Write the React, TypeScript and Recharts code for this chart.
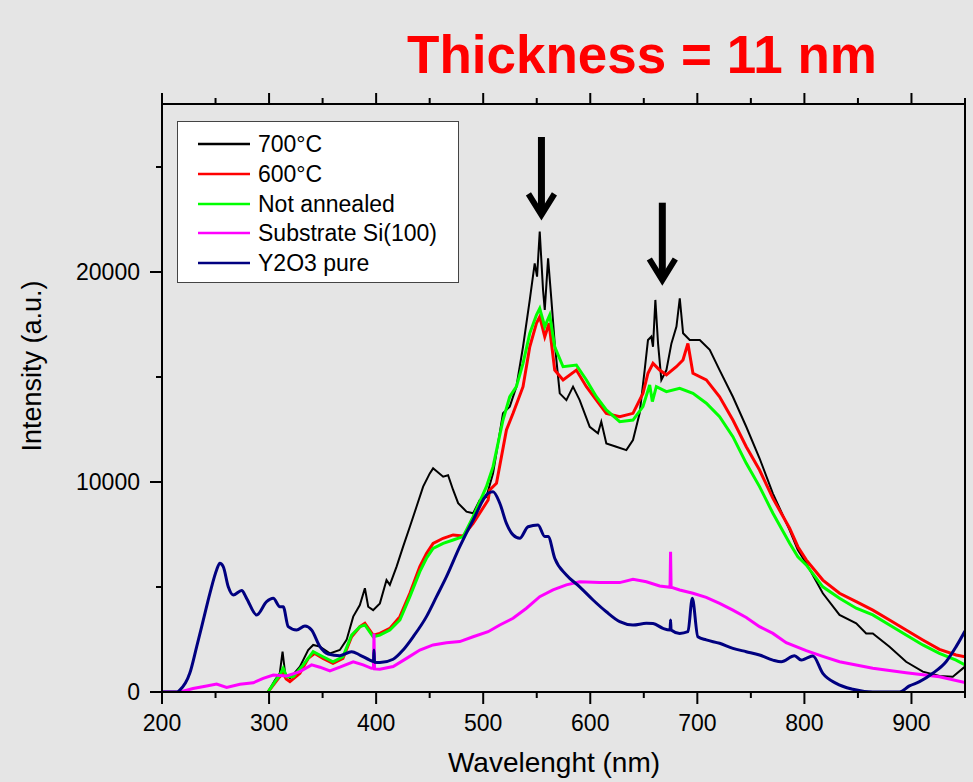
import { LineChart, Line, XAxis, YAxis, ReferenceLine } from 'recharts'

type Pt = [number, number]

// wavelength (nm), intensity (a.u.)
const s700: Pt[] = [
  [299, 0], [305.5, 570], [310, 890], [312.6, 1920], [315, 890], [319.5, 650], [328.8, 1210], [336.5, 2000],
  [341.2, 2240], [347.5, 2160], [356.8, 1840], [366.1, 2000], [372.4, 2480], [378.6, 3590], [384.8, 4140],
  [389.5, 4940], [392.6, 4060], [397.2, 3900], [403.5, 4220], [409.7, 5330], [412.8, 5100], [419.1, 5970],
  [425.2, 6920], [431.5, 7870], [437.7, 8820], [443.9, 9780], [450.1, 10410], [453.2, 10650], [462.6, 10250],
  [467.2, 10320], [471.9, 9620], [476.6, 8990], [484.4, 8590], [490.6, 8510], [496.8, 9140], [503, 9300],
  [509.2, 10410], [518.5, 13270], [524.8, 13590], [531, 14540], [537.2, 16440], [543.5, 18670], [548.1, 20410],
  [550.3, 19780], [552.8, 21920], [555.9, 19140], [557.5, 18190], [560.6, 20650], [563.7, 18670], [566.8, 16600],
  [571.5, 14220], [577.7, 13900], [583.9, 14540], [590.1, 13900], [599.5, 12630], [607.2, 12320], [610.3, 12870],
  [615, 11840], [624.3, 11680], [633.7, 11520], [639.9, 12000], [646.1, 13270], [650.8, 15330], [653.9, 16760],
  [657, 16920], [658.6, 16440], [660.8, 18670], [663.3, 16600], [666.4, 14860], [671.1, 15330], [675.8, 16600],
  [680.5, 17400], [683.6, 18750], [686.7, 17080], [692.9, 16760], [702.3, 16760], [711.6, 16290], [720.8, 15330],
  [733.2, 14060], [745.7, 12630], [758.1, 11130], [770.6, 9450], [786.2, 7710], [793.9, 6760], [801.7, 6130],
  [817.2, 4700], [832.8, 3670], [848.4, 3270], [857.7, 2790], [863.9, 2790], [879.5, 2160], [895, 1440],
  [910.6, 970], [926.1, 760], [938.6, 730], [950, 1210],
]

const s600: Pt[] = [
  [299, 0], [305, 400], [310, 730], [313, 900], [316, 620], [319.5, 490], [328.8, 890], [336.5, 1600],
  [342.7, 1840], [350.4, 1600], [359.7, 1370], [369, 1600], [377.1, 2630], [384.8, 3110], [389.5, 3270],
  [397.2, 2710], [403.5, 2790], [412.8, 3030], [422.2, 3590], [431.5, 4700], [440.8, 5970], [447, 6600],
  [453.2, 7080], [462.6, 7320], [471.9, 7480], [481.2, 7430], [490.6, 8030], [504.6, 9140], [506.1, 9620],
  [512.4, 9940], [521.7, 12480], [527.9, 13270], [537.2, 14540], [543.5, 16440], [549.7, 17560], [552.8, 17870],
  [557.5, 16920], [561.5, 17560], [566.8, 15330], [574.6, 14860], [587, 15330], [596.4, 14540], [605.7, 13900],
  [615, 13270], [627.5, 13110], [639.9, 13270], [649.2, 14220], [653.9, 15180], [658.6, 15650], [664.8, 15330],
  [671.1, 15100], [680.4, 15490], [686.6, 15810], [691.2, 16600], [695.9, 15180], [708.4, 14860], [720.8, 14060],
  [733.2, 12950], [745.7, 11680], [758.1, 10570], [770.6, 9220], [786.2, 7800], [793.9, 6920], [801.7, 6290],
  [817.2, 5330], [832.8, 4700], [848.4, 4300], [863.9, 3900], [879.5, 3430], [895, 2950], [910.6, 2480],
  [926.1, 2030], [941.7, 1760], [950, 1680],
]

const sNotAnnealed: Pt[] = [
  [299, 0], [305.5, 490], [310.1, 810], [313.2, 1130], [316.4, 730], [322.6, 730], [331.9, 1290], [341.2, 1920],
  [350.4, 1680], [359.7, 1440], [369, 1680], [377.1, 2710], [384.8, 3110], [389.5, 3190], [397.2, 2630],
  [403.5, 2710], [412.8, 2950], [422.2, 3430], [431.5, 4540], [440.8, 5730], [447, 6370], [453.2, 6840],
  [462.6, 7080], [471.9, 7240], [481.2, 7400], [490.6, 8350], [503, 9780], [509.2, 10730], [518.5, 12950],
  [524.8, 14060], [531, 14540], [537.2, 15650], [543.5, 17080], [549.7, 17950], [552.8, 18270], [557.5, 17400],
  [562.1, 17950], [566.8, 16440], [574.6, 15490], [587, 15570], [596.4, 14860], [605.7, 14060], [615, 13430],
  [627.5, 12870], [639.9, 12950], [649.2, 13590], [655.5, 14620], [658, 13830], [661.7, 14540], [671.1, 14300],
  [683.5, 14460], [695.9, 14220], [708.4, 13750], [720.8, 13110], [733.2, 12160], [745.7, 10890], [758.1, 9780],
  [770.6, 8510], [786.2, 7080], [793.9, 6440], [801.7, 6050], [817.2, 5010], [832.8, 4460], [848.4, 3990],
  [863.9, 3670], [879.5, 3190], [895, 2710], [910.6, 2240], [926.1, 1840], [941.7, 1520], [950, 1290],
]

const sSubstrate: Pt[] = [
  [200, 0], [217, 0], [229, 170], [241.7, 290], [251, 380], [260.4, 220], [272.8, 370], [285.2, 440],
  [294.5, 650], [303.9, 810], [316.4, 760], [328.8, 970], [339.7, 1290], [347.5, 1180], [356.8, 1000],
  [366.1, 1180], [378.6, 1440], [387.9, 1290], [395.7, 1130], [397.5, 1130], [398, 2790], [398.5, 1100],
  [403.5, 1080], [415.9, 1210], [428.4, 1600], [440.8, 2000], [453.2, 2240], [465.7, 2350], [478.1, 2400],
  [490.6, 2630], [504.6, 2870], [515.5, 3190], [527.9, 3510], [540.4, 3990], [552.8, 4540], [565.2, 4860],
  [577.7, 5100], [590.1, 5250], [608.8, 5210], [627.5, 5210], [639.9, 5370], [652.4, 5250], [664.8, 5050],
  [674.5, 4990], [675, 6680], [675.5, 4990], [683.5, 4860], [695.9, 4700], [708.3, 4510], [720.8, 4220],
  [733.2, 3900], [745.7, 3550], [758.1, 3110], [770.6, 2790], [783, 2350], [801.7, 1970], [817.2, 1700],
  [832.8, 1440], [863.9, 1130], [895, 920], [926.1, 730], [950, 450],
]

const sY2O3: Pt[] = [
  [200, 0], [214, 0], [216.8, 100], [226, 900], [232.4, 2160], [238.6, 3430], [244.8, 4710], [251, 5810],
  [254, 6130], [257.2, 5970], [261.9, 5010], [266.5, 4620], [274.4, 4830], [279, 4460], [288.4, 3670],
  [297.7, 4300], [303.9, 4460], [310.1, 4060], [313.2, 4060], [317.9, 3110], [325.7, 2950], [333.5, 3140],
  [339.7, 2950], [347.5, 2160], [355.2, 1810], [366.1, 1730], [377.1, 1920], [384.8, 1760], [394.1, 1520],
  [397.5, 1450], [398, 2000], [398.5, 1420], [403.5, 1400], [415.9, 1560], [425.2, 2000], [434.6, 2630],
  [447, 3590], [456.4, 4540], [465.7, 5490], [478.1, 6920], [490.6, 8190], [504.6, 9460], [509.2, 9540],
  [515.5, 8990], [521.7, 8030], [527.9, 7480], [534.1, 7320], [541.9, 7870], [551.2, 7950], [557.5, 7400],
  [560.6, 7400], [566.8, 6370], [577.7, 5570], [590.1, 5010], [602.6, 4380], [615, 3820], [627.5, 3350],
  [639.9, 3190], [652.4, 3270], [658.6, 3260], [667.9, 3030], [674.5, 2950], [675, 3430], [675.5, 2950],
  [683.5, 2790], [691.2, 2870], [695.3, 4460], [700.5, 2630], [708.3, 2480], [720.8, 2320], [733.2, 2080],
  [745.7, 1920], [758.1, 1760], [770.6, 1520], [778.4, 1440], [790.8, 1730], [797, 1520], [801.7, 1600],
  [807.9, 1710], [817.2, 890], [829.7, 410], [845.2, 130], [863.9, 0], [888.8, 0], [898.1, 290], [907.5, 490],
  [919.9, 890], [932.3, 1440], [941.7, 2160], [950, 2900],
]

const xTicks = [200, 250, 300, 350, 400, 450, 500, 550, 600, 650, 700, 750, 800, 850, 900, 950]
const yTicks = [0, 5000, 10000, 15000, 20000, 25000]

// arrows: wavelength, top intensity, tip intensity
const arrows = [
  [554.4, 26430, 22480],
  [667.3, 23300, 19380],
]

const series = [
  { name: '700°C', color: '#000000', width: 2, curve: 'linear', pts: s700 },
  { name: '600°C', color: '#ff0000', width: 3, curve: 'linear', pts: s600 },
  { name: 'Not annealed', color: '#00ff00', width: 3, curve: 'linear', pts: sNotAnnealed },
  { name: 'Substrate Si(100)', color: '#ff00ff', width: 3, curve: 'linear', pts: sSubstrate },
  { name: 'Y2O3 pure', color: '#000080', width: 3, curve: 'monotone', pts: sY2O3 },
]

const FONT = '"Liberation Sans", Arial, sans-serif'

const BottomTick = ({ x, y, payload }: any) => {
  const major = payload.value % 100 === 0
  return (
    <g>
      <line x1={x} y1={y} x2={x} y2={y + (major ? 12 : 6)} stroke="#000" strokeWidth={2} />
      {major && (
        <text x={x} y={y + 39} textAnchor="middle" fontSize={23} fontFamily={FONT} fill="#000">
          {payload.value}
        </text>
      )}
    </g>
  )
}

const TopTick = ({ x, y, payload }: any) => {
  const major = payload.value % 100 === 0
  return <line x1={x} y1={y} x2={x} y2={y - (major ? 11 : 6)} stroke="#000" strokeWidth={2} />
}

const LeftTick = ({ x, y, payload }: any) => {
  const major = payload.value % 10000 === 0
  return (
    <g>
      <line x1={x} y1={y} x2={x - (major ? 12 : 6)} y2={y} stroke="#000" strokeWidth={2} />
      {major && (
        <text x={x - 22} y={y + 8} textAnchor="end" fontSize={23} fontFamily={FONT} fill="#000">
          {payload.value}
        </text>
      )}
    </g>
  )
}

const ArrowShape = ({ x1, y1, x2, y2 }: any) => (
  <g>
    <line x1={x1} y1={y1} x2={x2} y2={y2 - 8} stroke="#000" strokeWidth={7} />
    <polyline
      points={`${x2 - 13},${y2 - 26} ${x2},${y2 - 5} ${x2 + 13},${y2 - 26}`}
      fill="none"
      stroke="#000"
      strokeWidth={6}
      strokeLinejoin="miter"
    />
  </g>
)

function LegendBox() {
  return (
    <div
      style={{
        position: 'absolute',
        left: 177,
        top: 121,
        width: 280,
        height: 160,
        background: '#fff',
        border: '1px solid #444',
        fontFamily: FONT,
      }}
    >
      {series.map((s, i) => (
        <div key={s.name} style={{ position: 'absolute', left: 0, top: 22 + i * 29.75 - 15, height: 30, display: 'flex', alignItems: 'center' }}>
          <svg width={80} height={30} style={{ display: 'block' }}>
            <line x1={20} y1={15} x2={72} y2={15} stroke={s.color} strokeWidth={2.5} />
          </svg>
          <span style={{ fontSize: 23, color: '#000', whiteSpace: 'nowrap', lineHeight: '30px' }}>{s.name}</span>
        </div>
      ))}
    </div>
  )
}

export default function App() {
  return (
    <div style={{ position: 'absolute', left: 0, top: 0, width: 973, height: 782, background: '#e5e5e5', overflow: 'hidden' }}>
      <LineChart width={973} height={782} margin={{ top: 0, right: 0, bottom: 0, left: 0 }}>
        <XAxis
          xAxisId={0}
          type="number"
          dataKey="x"
          domain={[200, 950]}
          ticks={xTicks}
          interval={0}
          allowDataOverflow
          height={90}
          tickSize={0}
          tickMargin={0}
          tickLine={false}
          tick={<BottomTick />}
          axisLine={{ stroke: '#000', strokeWidth: 2 }}
          label={{
            content: () => (
              <text x={554} y={772} textAnchor="middle" fontSize={28} fontFamily={FONT} fill="#000">
                Wavelenght (nm)
              </text>
            ),
          }}
        />
        <XAxis
          xAxisId="top"
          orientation="top"
          type="number"
          dataKey="x"
          domain={[200, 950]}
          ticks={xTicks}
          interval={0}
          allowDataOverflow
          height={104}
          tickSize={0}
          tickMargin={0}
          tickLine={false}
          tick={<TopTick />}
          axisLine={{ stroke: '#000', strokeWidth: 2 }}
          label={{
            content: () => (
              <text x={642} y={73} textAnchor="middle" fontSize={53} fontWeight="bold" fontFamily={FONT} fill="#ff0000">
                Thickness = 11 nm
              </text>
            ),
          }}
        />
        <YAxis
          yAxisId={0}
          type="number"
          domain={[0, 28000]}
          ticks={yTicks}
          interval={0}
          allowDataOverflow
          width={162}
          tickSize={0}
          tickMargin={0}
          tickLine={false}
          tick={<LeftTick />}
          axisLine={{ stroke: '#000', strokeWidth: 2 }}
          label={{
            content: () => (
              <text
                x={32}
                y={366}
                transform="rotate(-90 32 366)"
                textAnchor="middle"
                dominantBaseline="central"
                fontSize={27}
                fontFamily={FONT}
                fill="#000"
              >
                Intensity (a.u.)
              </text>
            ),
          }}
        />
        <YAxis
          yAxisId="right"
          orientation="right"
          type="number"
          domain={[0, 28000]}
          width={8}
          tick={false}
          tickLine={false}
          axisLine={{ stroke: '#000', strokeWidth: 2 }}
        />
        {series.map((s) => (
          <Line
            key={s.name}
            data={s.pts.map(([x, y]) => ({ x, y }))}
            dataKey="y"
            name={s.name}
            type={s.curve as any}
            stroke={s.color}
            strokeWidth={s.width}
            dot={false}
            activeDot={false}
            isAnimationActive={false}
          />
        ))}
        {arrows.map(([x, top, tip], i) => (
          <ReferenceLine
            key={i}
            segment={[{ x, y: top }, { x, y: tip }]}
            stroke="#000"
            shape={<ArrowShape />}
          />
        ))}
      </LineChart>
      <LegendBox />
    </div>
  )
}
